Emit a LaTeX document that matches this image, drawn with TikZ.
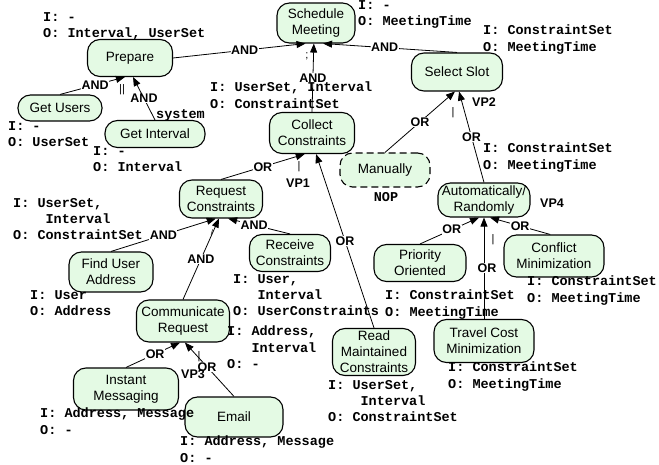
\documentclass[tikz,border=0pt]{standalone}
\usepackage{fontspec}
\setsansfont{Liberation Sans}
\setmonofont{Liberation Mono}
\usetikzlibrary{arrows.meta}
\definecolor{taskfill}{RGB}{228,250,228}
\tikzset{
  task/.style={draw, line width=1.1pt, fill=taskfill, rounded corners=12.5pt, align=center, inner sep=1pt, font=\sffamily\fontsize{13.5}{16}\selectfont},
  optional task/.style={task, dash pattern=on 7pt off 4pt},
  link/.style={-{Triangle[length=9pt,width=7pt]}, line width=0.8pt},
  gate/.style={font=\sffamily\bfseries\fontsize{12.5}{14}\selectfont, fill=white, inner sep=0.5pt},
  io/.style={anchor=north west, align=left, inner sep=0pt, execute at begin node=\strut, font=\ttfamily\bfseries\fontsize{13.5}{16.3}\selectfont},
  vp/.style={font=\sffamily\bfseries\fontsize{12.5}{14}\selectfont, inner sep=0pt},
  tick/.style={font=\sffamily\fontsize{11}{13}\selectfont, inner sep=0pt},
}

\begin{document}
\begin{tikzpicture}[x=1pt, y=-1pt]
  \useasboundingbox (0,0) rectangle (659,465);

  % Tasks
  \node[task, minimum width=78pt, minimum height=40pt] (sched) at (316,23) {Schedule\\Meeting};
  \node[task, minimum width=85pt, minimum height=37pt] (prep) at (130,58) {Prepare};
  \node[task, minimum width=84pt, minimum height=26pt] (users) at (60,108) {Get Users};
  \node[task, minimum width=100pt, minimum height=27pt] (interval) at (155,134) {Get Interval};
  \node[task, minimum width=91pt, minimum height=38pt] (slot) at (457,72) {Select Slot};
  \node[task, minimum width=85pt, minimum height=41pt] (coll) at (312,133) {Collect\\Constraints};
  \node[optional task, minimum width=90pt, minimum height=34pt] (manual) at (385,170) {Manually};
  \node[task, minimum width=92pt, minimum height=34pt] (auto) at (484,200) {Automatically/\\Randomly};
  \node[task, minimum width=83pt, minimum height=38pt] (reqc) at (221,199) {Request\\Constraints};
  \node[task, minimum width=81pt, minimum height=37pt] (recv) at (290,253) {Receive\\Constraints};
  \node[task, minimum width=84pt, minimum height=40pt] (finduser) at (111,272) {Find User\\Address};
  \node[task, minimum width=93pt, minimum height=42pt] (comm) at (183,321) {Communicate\\Request};
  \node[task, minimum width=105pt, minimum height=42pt] (im) at (126,389) {Instant\\Messaging};
  \node[task, minimum width=98pt, minimum height=40pt] (email) at (234,417) {Email};
  \node[task, minimum width=83pt, minimum height=47pt] (read) at (374,352) {Read\\Maintained\\Constraints};
  \node[task, minimum width=100pt, minimum height=43pt] (travel) at (484,341) {Travel Cost\\Minimization};
  \node[task, minimum width=92pt, minimum height=37pt] (prio) at (420,263) {Priority\\Oriented};
  \node[task, minimum width=100pt, minimum height=42pt] (conflict) at (554,256) {Conflict\\Minimization};

  % Decompositions
  \draw[link] (prep.east) -- node[gate, pos=0.54] {AND} (sched.-117);
  \draw[link] (slot.north) -- node[gate, pos=0.54] {AND} (sched.-71);
  \draw[link] (coll.north) -- node[gate] {AND} (sched.-96);
  \draw[link] (users.north) -- node[gate, pos=0.54] {AND} (prep.-105);
  \draw[link] (interval.north) -- node[gate] {AND} (prep.-81);
  \draw[link] (reqc.north) -- node[gate] {OR} (coll.-109);
  \draw[link] (read.north) -- node[gate] {OR} (coll.-79);
  \draw[link] (manual.north) -- node[gate] {OR} (slot.-96);
  \draw[link] (auto.north) -- node[gate] {OR} (slot.-84);
  \draw[link] (finduser.north) -- node[gate] {AND} (reqc.-105);
  \draw[link] (comm.north) -- node[gate] {AND} (reqc.-96);
  \draw[link] (recv.north) -- node[gate, pos=0.58] {AND} (reqc.-70);
  \draw[link] (im.north) -- node[gate, pos=0.54] {OR} (comm.-98);
  \draw[link] (email.north) -- node[gate, pos=0.55] {OR} (comm.-85);
  \draw[link] (prio.north) -- node[gate, pos=0.54] {OR} (auto.-106);
  \draw[link] (travel.north) -- node[gate, xshift=3pt] {OR} (auto.south);
  \draw[link] (conflict.100) -- node[gate] {OR} (auto.-71);

  % Inputs and outputs
  \node[io] (prep io) at (43,12) {I: -\\O: Interval, UserSet};
  \node[io] (sched io) at (358,0) {I: -\\O: MeetingTime};
  \node[io] (slot io) at (483,25) {I: ConstraintSet\\O: MeetingTime};
  \node[io] (coll io) at (210,82) {I: UserSet, Interval\\O: ConstraintSet};
  \node[io] (users io) at (8,121) {I: -\\O: UserSet};
  \node[io] (interval io) at (93,146) {I: -\\O: Interval};
  \node[io] (reqc io) at (13,198) {I: UserSet,\\~~~~Interval\\O: ConstraintSet};
  \node[io] (auto io) at (483,143) {I: ConstraintSet\\O: MeetingTime};
  \node[io] (finduser io) at (30,290) {I: User\\O: Address};
  \node[io] (recv io) at (233,274) {I: User,\\~~~Interval\\O: UserConstraints};
  \node[io] (comm io) at (227,326) {I: Address,\\~~~Interval\\O: -};
  \node[io] (prio io) at (385,290) {I: ConstraintSet\\O: MeetingTime};
  \node[io] (conflict io) at (527,276) {I: ConstraintSet\\O: MeetingTime};
  \node[io] (travel io) at (448,362) {I: ConstraintSet\\O: MeetingTime};
  \node[io] (read io) at (328,380) {I: UserSet,\\~~~~Interval\\O: ConstraintSet};
  \node[io] (im io) at (40,408) {I: Address, Message\\O: -};
  \node[io] (email io) at (180,436) {I: Address, Message\\O: -};
  \node[io, anchor=base west] (system) at (156,118.5) {system};
  \node[io, anchor=base] (nop) at (386,202) {NOP};

  % Variation points and marks
  \node[vp] (vp1) at (298,183) {VP1};
  \node[vp] (vp2) at (484,102) {VP2};
  \node[vp] (vp3) at (193,374) {VP3};
  \node[vp] (vp4) at (552,203) {VP4};
  \node[tick] (semi) at (307,56) {;};
  \node[tick] (seq) at (122,90) {||};
  \node[tick] (bar1) at (299,167) {|};
  \node[tick] (bar2) at (453,113) {|};
  \node[tick] (bar3) at (493,240) {|};
  \node[tick] (bar4) at (199,357) {|};
  \node[tick, font=\sffamily\fontsize{8}{9}\selectfont] (tick5) at (212,233) {/};
\end{tikzpicture}
\end{document}
